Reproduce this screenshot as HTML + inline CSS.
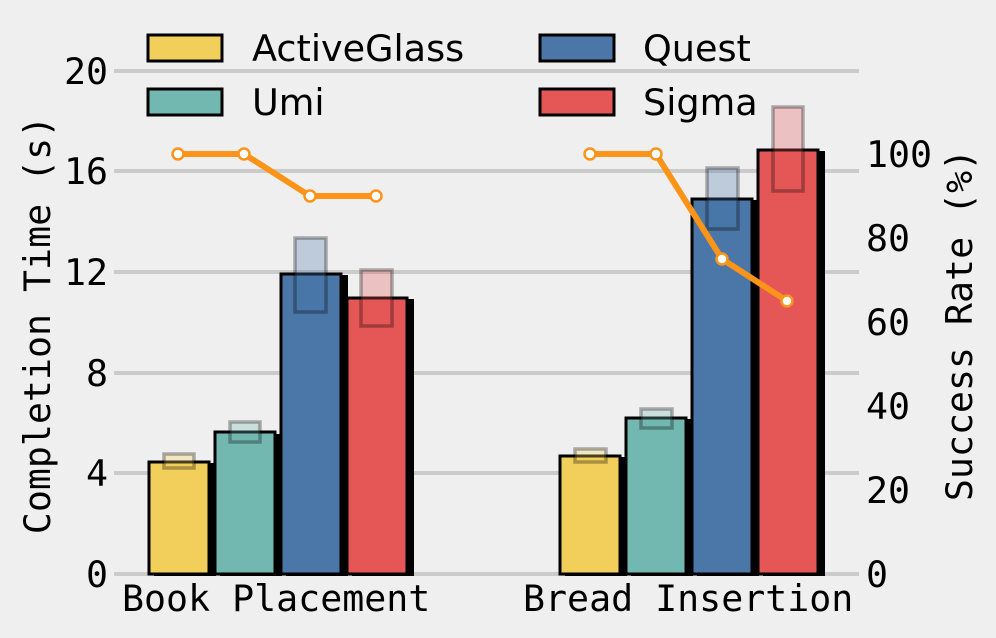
<!DOCTYPE html>
<html><head><meta charset="utf-8"><style>
html,body{margin:0;padding:0;background:#efefef;}
svg{display:block;}
.m{font-family:"DejaVu Sans Mono","Liberation Mono",monospace;font-size:36.6px;fill:#000;}
.s{font-family:"DejaVu Sans","Liberation Sans",sans-serif;font-size:36.6px;fill:#000;}
</style></head><body>
<svg width="996" height="638" viewBox="0 0 996 638" xmlns="http://www.w3.org/2000/svg">
<rect width="996" height="638" fill="#efefef"/>
<g stroke="#cbcbcb" stroke-width="4">
<line x1="114" x2="859" y1="574" y2="574"/>
<line x1="114" x2="859" y1="473" y2="473"/>
<line x1="114" x2="859" y1="373" y2="373"/>
<line x1="114" x2="859" y1="272" y2="272"/>
<line x1="114" x2="859" y1="171" y2="171"/>
<line x1="114" x2="859" y1="71" y2="71"/>
</g>
<g class="m" text-anchor="end">
<text x="108" y="587">0</text><text x="108" y="486">4</text><text x="108" y="386">8</text>
<text x="108" y="285">12</text><text x="108" y="184">16</text><text x="108" y="84">20</text>
</g>
<g class="m">
<text x="866" y="587">0</text><text x="866" y="503">20</text><text x="866" y="419">40</text>
<text x="866" y="335">60</text><text x="866" y="251">80</text><text x="866" y="167">100</text>
<text x="122" y="611">Book Placement</text><text x="523" y="611">Bread Insertion</text>
</g>
<text class="m" transform="translate(50,325) rotate(-90)" text-anchor="middle">Completion Time (s)</text>
<text class="m" transform="translate(972,325) rotate(-90)" text-anchor="middle">Success Rate (%)</text>
<g fill="#000">
<rect x="154" y="463" width="62" height="113"/>
<rect x="220" y="434" width="62" height="142"/>
<rect x="286" y="275" width="62" height="301"/>
<rect x="352" y="299" width="62" height="277"/>
<rect x="565" y="457" width="62" height="119"/>
<rect x="631" y="419" width="62" height="157"/>
<rect x="697" y="200" width="62" height="376"/>
<rect x="763" y="151" width="62" height="425"/>
</g>
<g stroke="#000" stroke-width="3">
<rect x="149" y="462" width="60" height="112" fill="#f2cf5b"/>
<rect x="215" y="432" width="60" height="142" fill="#73b8b0"/>
<rect x="281" y="274" width="60" height="300" fill="#4a76a8"/>
<rect x="347" y="298" width="60" height="276" fill="#e55656"/>
<rect x="560" y="456" width="60" height="118" fill="#f2cf5b"/>
<rect x="626" y="418" width="60" height="156" fill="#73b8b0"/>
<rect x="692" y="199" width="60" height="375" fill="#4a76a8"/>
<rect x="758" y="150" width="60" height="424" fill="#e55656"/>
</g>
<g stroke="#000" stroke-opacity="0.3" stroke-width="3.5" fill-opacity="0.3">
<rect x="164" y="454" width="30" height="14" fill="#f2cf5b"/>
<rect x="230" y="422" width="30" height="20" fill="#73b8b0"/>
<rect x="295" y="238" width="31" height="74" fill="#4a76a8"/>
<rect x="361" y="270" width="31" height="56" fill="#e55656"/>
<rect x="575" y="449" width="31" height="13" fill="#f2cf5b"/>
<rect x="641" y="409" width="31" height="19" fill="#73b8b0"/>
<rect x="707" y="168" width="31" height="61" fill="#4a76a8"/>
<rect x="773" y="107" width="30" height="84" fill="#e55656"/>
</g>
<g stroke="#fb9419" stroke-width="6" fill="none" stroke-linejoin="round">
<polyline points="178,154 244,154 310,196 376,196"/>
<polyline points="590,154 656,154 722,259 787,301"/>
</g>
<g fill="#fff" stroke="#fb9419" stroke-width="2.5">
<circle cx="178" cy="154" r="5.5"/><circle cx="244" cy="154" r="5.5"/><circle cx="310" cy="196" r="5.5"/><circle cx="376" cy="196" r="5.5"/>
<circle cx="590" cy="154" r="5.5"/><circle cx="656" cy="154" r="5.5"/><circle cx="722" cy="259" r="5.5"/><circle cx="787" cy="301" r="5.5"/>
</g>
<g stroke="#000" stroke-width="3">
<rect x="148" y="35" width="74" height="26" fill="#f2cf5b"/>
<rect x="148" y="89" width="74" height="26" fill="#73b8b0"/>
<rect x="540" y="35" width="74" height="26" fill="#4a76a8"/>
<rect x="540" y="89" width="74" height="26" fill="#e55656"/>
</g>
<g class="s">
<text x="252" y="61">ActiveGlass</text><text x="252" y="115">Umi</text>
<text x="643" y="61">Quest</text><text x="643" y="115">Sigma</text>
</g>
</svg>
</body></html>
